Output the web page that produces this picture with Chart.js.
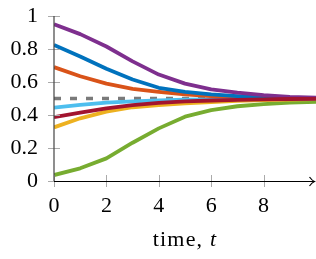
<!DOCTYPE html>
<html><head><meta charset="utf-8">
<script src="https://cdn.jsdelivr.net/npm/chart.js@4/dist/chart.umd.min.js"></script>
<style>html,body{margin:0;padding:0;background:#fff}#wrap{width:316px;height:259px}</style>
</head><body><div id="wrap"><canvas id="c" width="316" height="259"></canvas></div>
<script>
const times = [0,1,2,3,4,5,6,7,8,9,10];
const purpleVals = [0.95,0.89,0.815,0.725,0.645,0.59,0.555,0.535,0.52,0.51,0.505];
const blueVals = [0.825,0.755,0.68,0.615,0.565,0.54,0.525,0.515,0.508,0.504,0.502];
const orangeVals = [0.69,0.635,0.59,0.558,0.54,0.525,0.515,0.51,0.505,0.502,0.501];
const lightBlueVals = [0.445,0.461,0.475,0.483,0.489,0.493,0.495,0.497,0.498,0.499,0.5];
const crimsonVals = [0.387,0.414,0.44,0.46,0.473,0.482,0.488,0.492,0.495,0.497,0.498];
const yellowVals = [0.325,0.38,0.42,0.447,0.46,0.47,0.478,0.485,0.49,0.494,0.496];
const greenVals = [0.036,0.077,0.137,0.232,0.319,0.39,0.43,0.453,0.466,0.475,0.48];
const equilibrium = [0.5,0.5];
const eqTimes = [0,10];
const xTicks = [0,2,4,6,8];
const yTicks = [0,0.2,0.4,0.6,0.8,1];
const xTitle = "time, ";
const xTitleVar = "t";

const FONT = "Liberation Serif";
const pts = (xs, ys) => xs.map((x,i)=>({x, y: ys[i]}));
const line = (data, color) => ({data: pts(times, data), borderColor: color, borderWidth: 3.8, pointRadius: 0, tension: 0, fill: false, borderCapStyle: 'butt', borderJoinStyle: 'round'});

const axesPlugin = {
  id: 'axesPlugin',
  afterDraw(chart) {
    const ctx = chart.ctx, xs = chart.scales.x, ys = chart.scales.y, ca = chart.chartArea;
    ctx.save();
    ctx.strokeStyle = '#aaaaaa'; ctx.lineWidth = 1;
    xTicks.forEach(v => { const px = Math.round(xs.getPixelForValue(v)) + 0.5; ctx.beginPath(); ctx.moveTo(px, ca.bottom - 6); ctx.lineTo(px, ca.bottom + 6); ctx.stroke(); });
    yTicks.forEach(v => { const py = Math.round(ys.getPixelForValue(v)) + 0.5; ctx.beginPath(); ctx.moveTo(ca.left - 6, py); ctx.lineTo(ca.left + 6, py); ctx.stroke(); });
    ctx.strokeStyle = '#444'; ctx.lineWidth = 1.2;
    ctx.beginPath(); ctx.moveTo(ca.left, ys.getPixelForValue(1)); ctx.lineTo(ca.left, ca.bottom); ctx.stroke();
    const yb = Math.round(ca.bottom) + 0.5;
    ctx.strokeStyle = '#000'; ctx.lineWidth = 1.2;
    ctx.beginPath(); ctx.moveTo(ca.left, yb); ctx.lineTo(314.5, yb); ctx.stroke();
    ctx.beginPath(); ctx.moveTo(309.5, yb - 4.5); ctx.quadraticCurveTo(312, yb - 1, 314.5, yb); ctx.quadraticCurveTo(312, yb + 1, 309.5, yb + 4.5); ctx.stroke();
    ctx.fillStyle = '#000'; ctx.textBaseline = 'alphabetic';
    try { ctx.letterSpacing = '1.2px'; } catch (e) {}
    ctx.font = '22px "' + FONT + '"';
    const w1 = ctx.measureText(xTitle).width;
    ctx.font = 'italic 22px "' + FONT + '"';
    const w2 = ctx.measureText(xTitleVar).width;
    const cx = (ca.left + ca.right) / 2;
    const x0 = cx - (w1 + w2) / 2;
    const base = 246;
    ctx.font = '22px "' + FONT + '"';
    ctx.fillText(xTitle, x0, base);
    ctx.font = 'italic 22px "' + FONT + '"';
    ctx.fillText(xTitleVar, x0 + w1, base);
    ctx.restore();
  }
};

new Chart(document.getElementById('c'), {
  type: 'line',
  data: {
    datasets: [
      line(crimsonVals, '#A2142F'),
      line(purpleVals, '#7E2F8E'),
      line(blueVals, '#0072BD'),
      line(orangeVals, '#D95319'),
      line(lightBlueVals, '#4DBEEE'),
      line(yellowVals, '#EDB120'),
      line(greenVals, '#77AC30'),
      {data: pts(eqTimes, equilibrium), borderColor: '#7a7a7a', borderWidth: 3.4, borderDash: [7, 9], pointRadius: 0, fill: false, borderCapStyle: 'butt'}
    ]
  },
  options: {
    responsive: false, animation: false,
    layout: {padding: {top: 16, right: 0, left: 0, bottom: 0}},
    plugins: {legend: {display: false}, tooltip: {enabled: false}},
    scales: {
      x: {
        type: 'linear', min: 0, max: 10,
        grid: {display: false, drawTicks: false},
        border: {display: false},
        afterFit: s => { s.height = 78; s.paddingLeft = 0; s.paddingRight = 0; },
        afterBuildTicks: s => { s.ticks = xTicks.map(v => ({value: v})); },
        ticks: {color: '#000', font: {family: FONT, size: 22}, padding: 12, maxRotation: 0, autoSkip: false}
      },
      y: {
        min: 0, max: 1,
        grid: {display: false, drawTicks: false},
        border: {display: false},
        afterFit: s => { s.width = 54; s.paddingTop = 0; s.paddingBottom = 0; },
        afterBuildTicks: s => { s.ticks = yTicks.map(v => ({value: v})); },
        ticks: {color: '#000', font: {family: FONT, size: 22}, padding: 16, callback: v => String(v)}
      }
    }
  },
  plugins: [axesPlugin]
});
</script></body></html>
